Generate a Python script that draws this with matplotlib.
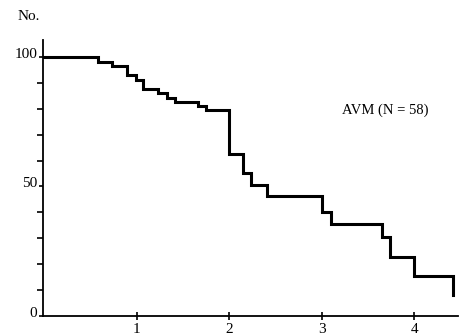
import matplotlib
matplotlib.use("Agg")
import matplotlib.pyplot as plt
import matplotlib.transforms as mtrans
from matplotlib.ticker import MultipleLocator

plt.rcParams['font.family'] = ['Liberation Serif', 'DejaVu Serif']

# Step times (years) and remaining number (%) after each step
times = [0, 0.58, 0.74, 0.90, 0.99, 1.07, 1.23, 1.33, 1.41, 1.66, 1.75,
         2.00, 2.15, 2.24, 2.41, 3.00, 3.10, 3.65, 3.74, 4.00, 4.42]
values = [100, 98, 96.5, 93, 91, 87.6, 86, 84, 82.6, 81, 79.5,
          62.5, 55, 50.5, 46.3, 40, 35.5, 30.5, 22.8, 15.4, 8]
x_ticks = [1, 2, 3, 4]
y_ticks = [0, 50, 100]
label = "AVM (N = 58)"

W, H = 461, 336
fig = plt.figure(figsize=(W / 100, H / 100), dpi=100)
ax = fig.add_axes([43 / W, 1 - 316 / H, (458 - 43) / W, (316 - 40) / H])

ax.step(times, values, where='post', color='black', lw=2.2, solid_joinstyle='miter')

ax.set_xlim(-0.01, 4.47)
ax.set_ylim(0, 106.5)

for s in ['top', 'right']:
    ax.spines[s].set_visible(False)
for s in ['left', 'bottom']:
    ax.spines[s].set_linewidth(1.3)

ax.set_xticks(x_ticks)
ax.set_xticklabels([str(t) for t in x_ticks])
ax.set_yticks(y_ticks)
ax.set_yticklabels([str(t) for t in y_ticks])
ax.yaxis.set_minor_locator(MultipleLocator(10))
ax.tick_params(axis='x', direction='inout', length=6, width=1.2, labelsize=11, pad=2)
ax.tick_params(axis='y', which='major', direction='out', length=3, width=1.2, labelsize=11, pad=1)
ax.tick_params(axis='y', which='minor', direction='out', length=4, width=1.2)

shift = mtrans.ScaledTranslation(0, 4 / 100, fig.dpi_scale_trans)
for lab in ax.get_yticklabels():
    lab.set_transform(lab.get_transform() + shift)

ax.text(3.22, 79.5, label, fontsize=10.5, va='center', ha='left')
fig.text(18 / W, 1 - 16 / H, "No.", fontsize=11, va='center', ha='left')

fig.savefig("out.png", dpi=100)
